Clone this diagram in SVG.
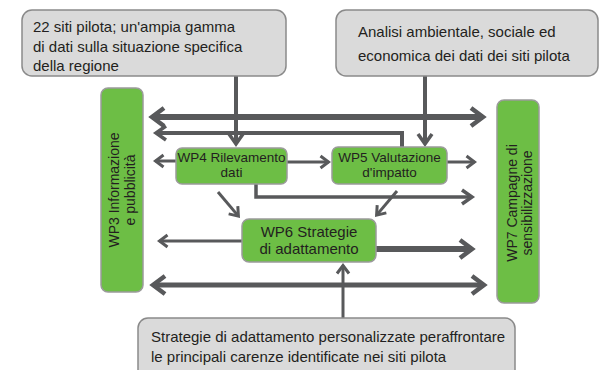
<svg xmlns="http://www.w3.org/2000/svg" width="601" height="370" viewBox="0 0 601 370">
<style>
.note{fill:#dadada;stroke:#8a8a8a;stroke-width:1.5}
.wp{fill:#6dbe45;stroke:#9b9b9b;stroke-width:1.5}
.nt{font-family:"Liberation Sans",Arial,sans-serif;font-size:15px;fill:#231f20}
.wt{font-family:"Liberation Sans",Arial,sans-serif;font-size:13.5px;fill:#231f20;text-anchor:middle}
.bt{font-family:"Liberation Sans",Arial,sans-serif;font-size:14px;fill:#231f20;text-anchor:middle}
.c{fill:none;stroke:#58595b}
.ah{fill:none;stroke:#58595b;stroke-linejoin:miter}
</style>
<defs>
<marker id="aL" markerUnits="userSpaceOnUse" markerWidth="40" markerHeight="40" viewBox="-20 -20 40 40" refX="0" refY="0" orient="auto-start-reverse" style="overflow:visible">
<path class="ah" d="M-12,-9 L0,0 L-12,9" stroke-width="4.5"/>
</marker>
<marker id="aM" markerUnits="userSpaceOnUse" markerWidth="40" markerHeight="40" viewBox="-20 -20 40 40" refX="0" refY="0" orient="auto-start-reverse" style="overflow:visible">
<path class="ah" d="M-10,-7 L0,0 L-10,7" stroke-width="3.5"/>
</marker>
<marker id="aS" markerUnits="userSpaceOnUse" markerWidth="40" markerHeight="40" viewBox="-20 -20 40 40" refX="0" refY="0" orient="auto-start-reverse" style="overflow:visible">
<path class="ah" d="M-8,-6 L0,0 L-8,6" stroke-width="3"/>
</marker>
</defs>
<g id="connectors">
<path class="c" d="M152,117 H483" stroke-width="6" marker-start="url(#aL)" marker-end="url(#aL)"/>
<path class="c" d="M402,148 V133 H156" stroke-width="4" marker-end="url(#aM)"/>
<path class="c" d="M236,76 V144" stroke-width="4" marker-end="url(#aM)"/>
<path class="c" d="M425,76 V144" stroke-width="4" marker-end="url(#aM)"/>
<path class="c" d="M176,161 H155.5" stroke-width="3" marker-end="url(#aS)"/>
<path class="c" d="M287,162 H328.5" stroke-width="3" marker-end="url(#aS)"/>
<path class="c" d="M447,162 H474.5" stroke-width="3" marker-end="url(#aS)"/>
<path class="c" d="M256,184 V197 H472" stroke-width="3.5" marker-end="url(#aM)"/>
<path class="c" d="M218,192 L238.4,216.1" stroke-width="3" marker-end="url(#aS)"/>
<path class="c" d="M397,191 L376.6,215.1" stroke-width="3" marker-end="url(#aS)"/>
<path class="c" d="M242,241 H159.5" stroke-width="3" marker-end="url(#aS)"/>
<path class="c" d="M376,249 H472" stroke-width="6" marker-end="url(#aL)"/>
<path class="c" d="M153,285 H484" stroke-width="5" marker-start="url(#aL)" marker-end="url(#aL)"/>
<path class="c" d="M343,318 V265.5" stroke-width="3" marker-end="url(#aS)"/>
</g>
<g id="note-dati">
<rect class="note" x="22" y="10" width="264" height="66" rx="10"/>
<text class="nt" x="33" y="32">22 siti pilota; un'ampia gamma</text>
<text class="nt" x="33" y="51.5">di dati sulla situazione specifica</text>
<text class="nt" x="33" y="71">della regione</text>
</g>
<g id="note-analisi">
<rect class="note" x="336" y="10" width="262" height="66" rx="10"/>
<text class="nt" x="358" y="37">Analisi ambientale, sociale ed</text>
<text class="nt" x="358" y="61">economica dei dati dei siti pilota</text>
</g>
<g id="note-strategie">
<rect class="note" x="138" y="318" width="377" height="62" rx="10"/>
<text class="nt" x="151" y="342">Strategie di adattamento personalizzate peraffrontare</text>
<text class="nt" x="151" y="362">le principali carenze identificate nei siti pilota</text>
</g>
<g id="wp3">
<rect class="wp" x="101" y="88" width="42" height="204" rx="7"/>
<text class="bt" transform="translate(122,190) rotate(-90)"><tspan x="0" y="-3.5">WP3 Informazione</tspan><tspan x="0" y="12.5">e pubblicità</tspan></text>
</g>
<g id="wp7">
<rect class="wp" x="497" y="100" width="42" height="203" rx="7"/>
<text class="bt" transform="translate(519,203) rotate(-90)"><tspan x="0" y="-2.5">WP7 Campagne di</tspan><tspan x="0" y="13">sensibilizzazione</tspan></text>
</g>
<g id="wp4">
<rect class="wp" x="176" y="148" width="111" height="36" rx="6"/>
<text class="wt" x="231.5" y="162">WP4 Rilevamento</text>
<text class="wt" x="231.5" y="177">dati</text>
</g>
<g id="wp5">
<rect class="wp" x="332" y="147" width="115" height="37" rx="6"/>
<text class="wt" x="389.5" y="162">WP5 Valutazione</text>
<text class="wt" x="389.5" y="177">d'impatto</text>
</g>
<g id="wp6">
<rect class="wp" x="242" y="219" width="134" height="43" rx="7"/>
<text class="wt" x="309" y="237" style="font-size:15px">WP6 Strategie</text>
<text class="wt" x="309" y="254" style="font-size:15px">di adattamento</text>
</g>
</svg>
